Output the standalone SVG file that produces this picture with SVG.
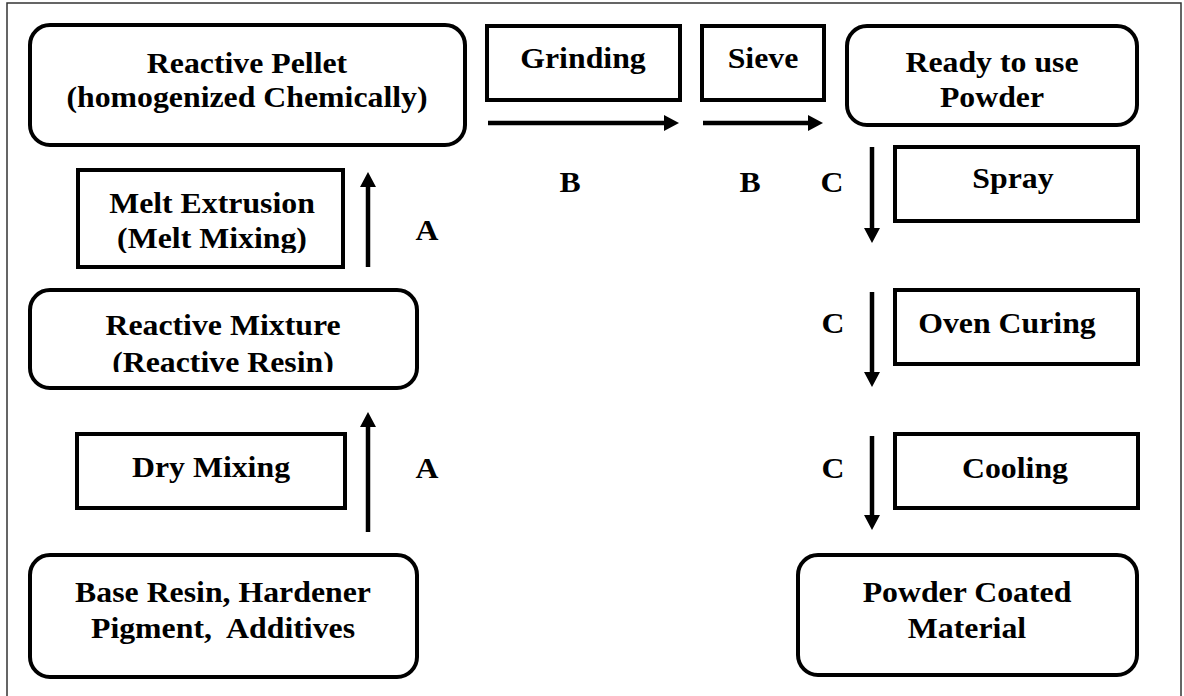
<svg xmlns="http://www.w3.org/2000/svg" width="1184" height="696" viewBox="0 0 1184 696">
  <defs>
    <style>
      .frame { fill: none; stroke: #333; stroke-width: 1.5; }
      .rbox { fill: #fff; stroke: #000; stroke-width: 4; }
      .box { fill: #fff; stroke: #000; stroke-width: 4; }
      .lbl { font-family: "Liberation Serif", "Times New Roman", serif; font-weight: bold; font-size: 30px; fill: #000; text-anchor: middle; }
      .conn { stroke: #000; stroke-width: 4.5; fill: none; marker-end: url(#head); }
    </style>
    <marker id="head" viewBox="0 0 15 16" markerWidth="15" markerHeight="16" refX="0" refY="8" orient="auto" markerUnits="userSpaceOnUse">
      <path d="M0,0 L15,8 L0,16 Z" fill="#000"/>
    </marker>
    <clipPath id="clipMelt" clipPathUnits="userSpaceOnUse"><rect x="80" y="172" width="262" height="81"/></clipPath>
    <clipPath id="clipMix" clipPathUnits="userSpaceOnUse"><rect x="32" y="292" width="383" height="80"/></clipPath>
    <clipPath id="clipReady" clipPathUnits="userSpaceOnUse"><rect x="849" y="28" width="286" height="80"/></clipPath>
  </defs>

  <rect class="frame" x="7" y="3" width="1174" height="700"/>

  <g id="node-reactive-pellet">
    <rect class="rbox" x="30" y="25" width="435" height="120" rx="20" ry="20"/>
    <text class="lbl" transform="translate(247,73) scale(1.06,1)">Reactive Pellet</text>
    <text class="lbl" transform="translate(247,107) scale(1.06,1)">(homogenized Chemically)</text>
  </g>

  <g id="node-melt-extrusion">
    <rect class="box" x="78" y="170" width="265" height="97"/>
    <g clip-path="url(#clipMelt)">
      <text class="lbl" transform="translate(212,213) scale(1.06,1)">Melt Extrusion</text>
      <text class="lbl" transform="translate(212,248) scale(1.06,1)">(Melt Mixing)</text>
    </g>
  </g>

  <g id="node-reactive-mixture">
    <rect class="rbox" x="30" y="290" width="387" height="98" rx="20" ry="20"/>
    <g clip-path="url(#clipMix)">
      <text class="lbl" transform="translate(223,335) scale(1.06,1)">Reactive Mixture</text>
      <text class="lbl" transform="translate(223,372) scale(1.06,1)">(Reactive Resin)</text>
    </g>
  </g>

  <g id="node-dry-mixing">
    <rect class="box" x="77" y="434" width="268" height="74"/>
    <text class="lbl" transform="translate(211,477) scale(1.06,1)">Dry Mixing</text>
  </g>

  <g id="node-base-resin">
    <rect class="rbox" x="30" y="555" width="387" height="122" rx="20" ry="20"/>
    <text class="lbl" transform="translate(223,602) scale(1.06,1)">Base Resin, Hardener</text>
    <text class="lbl" transform="translate(223,638) scale(1.06,1)" xml:space="preserve">Pigment,  Additives</text>
  </g>

  <g id="node-grinding">
    <rect class="box" x="487" y="26" width="193" height="74"/>
    <text class="lbl" transform="translate(583,68) scale(1.06,1)">Grinding</text>
  </g>

  <g id="node-sieve">
    <rect class="box" x="702" y="26" width="122" height="74"/>
    <text class="lbl" transform="translate(763,68) scale(1.06,1)">Sieve</text>
  </g>

  <g id="node-ready">
    <rect class="rbox" x="847" y="26" width="290" height="99" rx="20" ry="20"/>
    <g clip-path="url(#clipReady)">
      <text class="lbl" transform="translate(992,72) scale(1.06,1)">Ready to use</text>
      <text class="lbl" transform="translate(992,107) scale(1.06,1)">Powder</text>
    </g>
  </g>

  <g id="node-spray">
    <rect class="box" x="895" y="147" width="243" height="74"/>
    <text class="lbl" transform="translate(1013,188) scale(1.06,1)">Spray</text>
  </g>

  <g id="node-oven-curing">
    <rect class="box" x="895" y="290" width="243" height="74"/>
    <text class="lbl" transform="translate(1007,333) scale(1.06,1)">Oven Curing</text>
  </g>

  <g id="node-cooling">
    <rect class="box" x="895" y="434" width="243" height="74"/>
    <text class="lbl" transform="translate(1015,478) scale(1.06,1)">Cooling</text>
  </g>

  <g id="node-powder-coated">
    <rect class="rbox" x="798" y="555" width="339" height="120" rx="20" ry="20"/>
    <text class="lbl" transform="translate(967,602) scale(1.06,1)">Powder Coated</text>
    <text class="lbl" transform="translate(967,638) scale(1.06,1)">Material</text>
  </g>

  <g id="connectors">
    <line class="conn" x1="368" y1="267" x2="368" y2="187"/>
    <line class="conn" x1="368" y1="532" x2="368" y2="427"/>
    <line class="conn" x1="488" y1="123" x2="664" y2="123"/>
    <line class="conn" x1="703" y1="123" x2="808" y2="123"/>
    <line class="conn" x1="872" y1="147" x2="872" y2="228"/>
    <line class="conn" x1="872" y1="292" x2="872" y2="372"/>
    <line class="conn" x1="872" y1="436" x2="872" y2="515"/>
    <text class="lbl" transform="translate(427,240) scale(1.06,1)">A</text>
    <text class="lbl" transform="translate(427,478) scale(1.06,1)">A</text>
    <text class="lbl" transform="translate(570,192) scale(1.06,1)">B</text>
    <text class="lbl" transform="translate(750,192) scale(1.06,1)">B</text>
    <text class="lbl" transform="translate(832,192) scale(1.06,1)">C</text>
    <text class="lbl" transform="translate(833,333) scale(1.06,1)">C</text>
    <text class="lbl" transform="translate(833,478) scale(1.06,1)">C</text>
  </g>
</svg>
